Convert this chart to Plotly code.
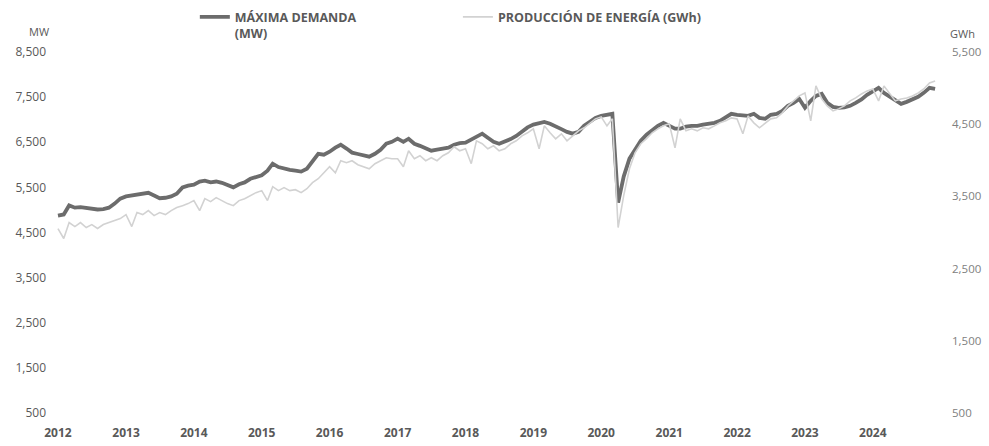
import pandas as pd
import plotly.graph_objects as go

years = list(range(2012, 2025))
months = pd.date_range("2012-01-01", "2024-12-01", freq="MS")

demanda_mw = [
    4876, 4900, 5100, 5050, 5060, 5040, 5030, 5010, 5020, 5050, 5140, 5250,
    5300, 5320, 5340, 5360, 5380, 5320, 5260, 5270, 5300, 5360, 5500, 5540,
    5560, 5630, 5650, 5610, 5630, 5600, 5560, 5500, 5570, 5610, 5690, 5740,
    5770, 5870, 6025, 5950, 5915, 5890, 5870, 5850, 5915, 6090, 6245, 6225,
    6290, 6380, 6445, 6360, 6270, 6240, 6200, 6180, 6245, 6335, 6467, 6510,
    6580, 6510, 6578, 6467, 6420, 6360, 6312, 6334, 6355, 6380, 6445, 6480,
    6490, 6555, 6620, 6690, 6600, 6510, 6467, 6510, 6570, 6640, 6750, 6830,
    6890, 6930, 6950, 6910, 6840, 6790, 6730, 6690, 6730, 6865, 6955, 7040,
    7085, 7108, 7130, 5163, 5740, 6136, 6334, 6533, 6666, 6776, 6865, 6931,
    6865, 6800, 6800, 6845, 6865, 6865, 6890, 6910, 6930, 6975, 7065, 7130,
    7108, 7100, 7085, 7130, 7040, 7020, 7108, 7130, 7195, 7307, 7373, 7462,
    7263, 7417, 7528, 7572, 7373, 7285, 7263, 7275, 7307, 7373, 7450, 7550,
    7640, 7705, 7594, 7506, 7417, 7351, 7395, 7440, 7506, 7594, 7705, 7683,
]

produccion_gwh = [
    3055, 2917, 3138, 3082, 3138, 3069, 3110, 3055, 3110, 3138, 3165, 3193,
    3248, 3082, 3276, 3248, 3303, 3234, 3276, 3248, 3303, 3345, 3372, 3400,
    3442, 3303, 3469, 3428, 3483, 3442, 3400, 3372, 3442, 3469, 3511, 3552,
    3580, 3442, 3635, 3580, 3621, 3580, 3593, 3552, 3607, 3690, 3745, 3828,
    3911, 3828, 3994, 3966, 3994, 3939, 3911, 3883, 3953, 3994, 4035, 4022,
    4022, 3911, 4132, 4022, 4063, 3994, 4035, 3994, 4063, 4104, 4187, 4132,
    4160, 3953, 4270, 4229, 4160, 4201, 4132, 4160, 4229, 4270, 4339, 4381,
    4436, 4160, 4477, 4381, 4298, 4367, 4270, 4339, 4408, 4450, 4519, 4574,
    4602, 4477, 4574, 3069, 3511, 3883, 4104, 4229, 4298, 4381, 4436, 4477,
    4505, 4173, 4574, 4408, 4436, 4408, 4450, 4436, 4477, 4519, 4546, 4588,
    4574, 4367, 4615, 4519, 4450, 4519, 4574, 4588, 4657, 4753, 4823, 4892,
    4933, 4546, 5030, 4850, 4753, 4684, 4712, 4753, 4823, 4864, 4919, 4961,
    4988, 4823, 5030, 4919, 4823, 4850, 4864, 4892, 4933, 4988, 5071, 5099,
]

mw_ticks = [500, 1500, 2500, 3500, 4500, 5500, 6500, 7500, 8500]
gwh_ticks = [500, 1500, 2500, 3500, 4500, 5500]
year_ticks = [pd.Timestamp(f"{y}-01-01") for y in years]
year_labels = [str(y) for y in years]

FONT = "Open Sans"
TXT = "#595959"

fig = go.Figure()
fig.add_trace(go.Scatter(
    x=months, y=produccion_gwh, yaxis="y2", mode="lines",
    name="PRODUCCIÓN DE ENERGÍA (GWh)", legend="legend2", showlegend=True,
    line=dict(color="#d2d2d2", width=1.6),
))
fig.add_trace(go.Scatter(
    x=months, y=demanda_mw, yaxis="y", mode="lines",
    name="MÁXIMA DEMANDA<br>(MW)", legend="legend", showlegend=True,
    line=dict(color="#6c6c6c", width=3.8),
))

fig.update_layout(
    width=989, height=446,
    margin=dict(l=55, r=50, t=52, b=33, autoexpand=False),
    paper_bgcolor="white", plot_bgcolor="white",
    font=dict(family=FONT, color=TXT, size=11),
    separators=".,",
    showlegend=True,
    xaxis=dict(
        type="date", range=["2011-12-16", "2024-12-22"],
        tickvals=year_ticks, ticktext=year_labels,
        showgrid=False, zeroline=False, showline=False, ticks="",
        tickfont=dict(family=FONT, size=12, color=TXT, weight="bold"),
        ticklabelstandoff=11, automargin=False,
    ),
    yaxis=dict(
        range=[500, 8500], tickvals=mw_ticks, tickformat=",d",
        showgrid=False, zeroline=False, showline=False, ticks="",
        tickfont=dict(family=FONT, size=12, color=TXT),
        ticklabelstandoff=8, automargin=False,
    ),
    yaxis2=dict(
        range=[500, 5500], tickvals=gwh_ticks, tickformat=",d",
        overlaying="y", side="right",
        showgrid=False, zeroline=False, showline=False, ticks="",
        tickfont=dict(family=FONT, size=11.5, color="#808080"),
        ticklabelstandoff=12, automargin=False,
    ),
    legend=dict(
        xref="container", yref="container",
        x=0.197, y=0.995, xanchor="left", yanchor="top", valign="top",
        orientation="h", bgcolor="rgba(0,0,0,0)",
        font=dict(family=FONT, size=12.5, color=TXT, weight="bold"),
    ),
    legend2=dict(
        xref="container", yref="container",
        x=0.463, y=0.995, xanchor="left", yanchor="top", valign="top",
        orientation="h", bgcolor="rgba(0,0,0,0)",
        font=dict(family=FONT, size=12.5, color=TXT, weight="bold"),
    ),
    annotations=[
        dict(text="MW", xref="paper", yref="paper", x=-0.004, y=1.058,
             xanchor="right", yanchor="middle", showarrow=False,
             font=dict(family=FONT, size=11, color=TXT)),
        dict(text="GWh", xref="paper", yref="paper", x=1.01, y=1.052,
             xanchor="left", yanchor="middle", showarrow=False,
             font=dict(family=FONT, size=11, color=TXT)),
    ],
)

fig.write_html(
    "out.html",
    config={"displayModeBar": False},
    post_script="document.body.style.margin='0';document.body.style.padding='0';",
)
